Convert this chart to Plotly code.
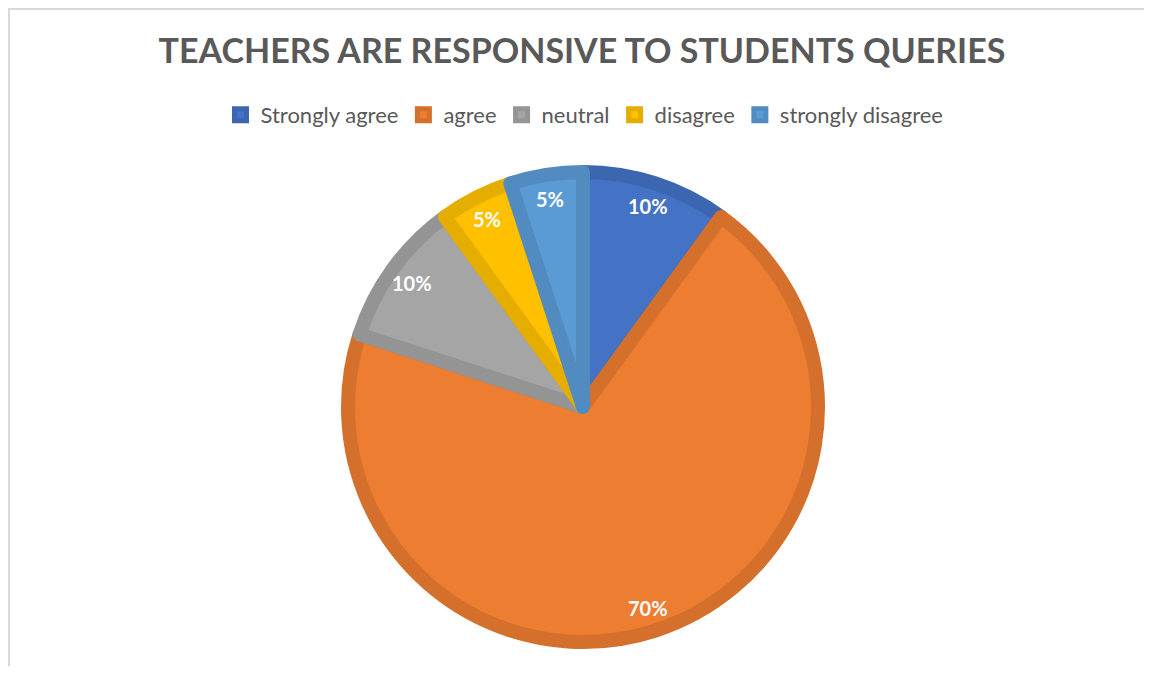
import math
import plotly.graph_objects as go

categories = ["Strongly agree", "agree", "neutral", "disagree", "strongly disagree"]
values = [10, 70, 10, 5, 5]
colors = ["#4472C4", "#ED7D31", "#A5A5A5", "#FFC000", "#5B9BD5"]
border_colors = ["#3D66B0", "#D5702C", "#949494", "#E5AD00", "#528BBF"]
title_text = "TEACHERS ARE RESPONSIVE TO STUDENTS QUERIES"

# page body has an 8px margin, so the figure is sized to fit the window
OFF = 8
W, H = 1152 - OFF, 674 - 2 * OFF
cx, cy = 583 - OFF, 407 - OFF   # pie centre in figure pixels
line_w = 14
R = 242 - line_w / 2            # pie radius so the outer stroke edge is at 242px

fig = go.Figure()
fig.add_trace(go.Pie(
    labels=categories,
    values=values,
    sort=False,
    direction="clockwise",
    rotation=0,
    marker=dict(colors=colors, line=dict(color=border_colors, width=line_w)),
    textinfo="none",
    hoverinfo="label+percent",
    domain=dict(x=[(cx - R) / W, (cx + R) / W],
                y=[1 - (cy + R) / H, 1 - (cy - R) / H]),
))

# percentage labels placed at each slice's mid-angle
total = sum(values)
cum = 0
annotations = []
for v in values:
    mid = (cum + v / 2) / total * 2 * math.pi
    cum += v
    r_lab = 211
    px = cx + r_lab * math.sin(mid)
    py = cy - r_lab * math.cos(mid)
    annotations.append(dict(
        x=px / W, y=1 - py / H, xref="paper", yref="paper",
        text=f"<b>{round(v / total * 100)}%</b>", showarrow=False,
        font=dict(family="Lato, Open Sans, sans-serif", size=20, color="white"),
        xanchor="center", yanchor="middle",
    ))

fig.update_layout(
    width=W, height=H,
    margin=dict(l=0, r=0, t=0, b=0),
    paper_bgcolor="white",
    plot_bgcolor="white",
    title=dict(text=f"<b>{title_text}</b>", x=(582 - OFF) / W, xanchor="center",
               y=1 - (51 - OFF) / H, yanchor="middle", yref="container",
               font=dict(family="Lato, Open Sans, sans-serif", size=34, color="#595959")),
    legend=dict(orientation="h", x=(584.5 - OFF) / W, xanchor="center",
                y=1 - (115 - OFF) / H, yanchor="middle",
                font=dict(family="Lato, Open Sans, sans-serif", size=22, color="#595959"),
                traceorder="normal"),
    annotations=annotations,
    shapes=[dict(type="rect", xref="paper", yref="paper",
                 x0=1 / W, x1=1.05, y0=-0.05, y1=1 - 1 / H,
                 line=dict(color="#D9D9D9", width=2), fillcolor="rgba(0,0,0,0)")],
)

fig.write_html("out.html")
